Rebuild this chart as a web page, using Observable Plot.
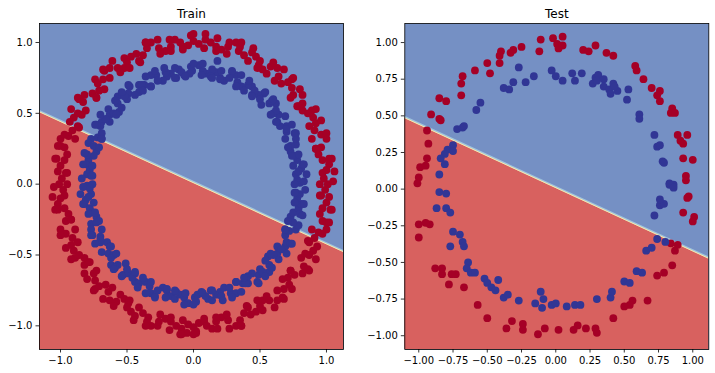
<!DOCTYPE html>
<html>
<head>
<meta charset="utf-8">
<script src="https://cdn.jsdelivr.net/npm/d3@7"></script>
<script src="https://cdn.jsdelivr.net/npm/@observablehq/plot@0.6"></script>
<style>
  html, body { margin: 0; padding: 0; background: white; }
  #wrap { display: flex; width: 715px; height: 373px; }
  #wrap svg { display: block; }
</style>
</head>
<body>
<div id="wrap"></div>
<script>
// ---- Train set: outer ring (class 0, red) ----
const trainRed = [
  [1.01,0.00],[0.98,0.04],[1.05,0.02],[0.97,0.08],[1.02,0.14],[1.00,0.10],
  [1.02,0.18],[0.94,0.21],[0.97,0.17],[0.96,0.26],[1.00,0.32],[0.92,0.25],
  [0.96,0.35],[0.91,0.38],[1.00,0.36],[0.87,0.41],[0.90,0.47],[0.92,0.43],
  [0.89,0.52],[0.82,0.52],[0.86,0.50],[0.82,0.57],[0.82,0.63],[0.79,0.55],
  [0.75,0.63],[0.74,0.68],[0.80,0.67],[0.74,0.74],[0.66,0.71],[0.71,0.72],
  [0.64,0.76],[0.63,0.82],[0.61,0.73],[0.58,0.83],[0.52,0.81],[0.60,0.86],
  [0.49,0.84],[0.47,0.90],[0.50,0.87],[0.44,0.93],[0.38,0.91],[0.41,0.87],
  [0.34,0.94],[0.32,1.00],[0.35,0.97],[0.27,1.00],[0.21,0.95],[0.26,0.97],
  [0.17,0.97],[0.13,1.00],[0.18,1.03],[0.09,1.02],[0.04,0.99],[0.08,0.96],
  [0.00,1.01],[-0.04,0.98],[-0.02,1.05],[-0.08,0.97],[-0.14,1.02],[-0.10,1.00],
  [-0.18,1.02],[-0.21,0.94],[-0.17,0.97],[-0.26,0.96],[-0.32,1.00],[-0.25,0.92],
  [-0.35,0.96],[-0.38,0.91],[-0.36,1.00],[-0.41,0.87],[-0.47,0.90],[-0.43,0.92],
  [-0.52,0.89],[-0.52,0.82],[-0.50,0.86],[-0.57,0.82],[-0.63,0.82],[-0.55,0.79],
  [-0.63,0.75],[-0.68,0.74],[-0.67,0.80],[-0.74,0.74],[-0.71,0.66],[-0.72,0.71],
  [-0.76,0.64],[-0.82,0.63],[-0.73,0.61],[-0.83,0.58],[-0.81,0.52],[-0.86,0.60],
  [-0.84,0.49],[-0.90,0.47],[-0.87,0.50],[-0.93,0.44],[-0.91,0.38],[-0.87,0.41],
  [-0.94,0.34],[-1.00,0.32],[-0.97,0.35],[-1.00,0.27],[-0.95,0.21],[-0.97,0.26],
  [-0.97,0.17],[-1.00,0.13],[-1.03,0.18],[-1.02,0.09],[-0.99,0.04],[-0.96,0.08],
  [-1.01,0.00],[-0.98,-0.04],[-1.05,-0.02],[-0.97,-0.08],[-1.02,-0.14],[-1.00,-0.10],
  [-1.02,-0.18],[-0.94,-0.21],[-0.97,-0.17],[-0.96,-0.26],[-1.00,-0.32],[-0.92,-0.25],
  [-0.96,-0.35],[-0.91,-0.38],[-1.00,-0.36],[-0.87,-0.41],[-0.90,-0.47],[-0.92,-0.43],
  [-0.89,-0.52],[-0.82,-0.52],[-0.86,-0.50],[-0.82,-0.57],[-0.82,-0.63],[-0.79,-0.55],
  [-0.75,-0.63],[-0.74,-0.68],[-0.80,-0.67],[-0.74,-0.74],[-0.66,-0.71],[-0.71,-0.72],
  [-0.64,-0.76],[-0.63,-0.82],[-0.61,-0.73],[-0.58,-0.83],[-0.52,-0.81],[-0.60,-0.86],
  [-0.49,-0.84],[-0.47,-0.90],[-0.50,-0.87],[-0.44,-0.93],[-0.38,-0.91],[-0.41,-0.87],
  [-0.34,-0.94],[-0.32,-1.00],[-0.35,-0.97],[-0.27,-1.00],[-0.21,-0.95],[-0.26,-0.97],
  [-0.17,-0.97],[-0.13,-1.00],[-0.18,-1.03],[-0.09,-1.02],[-0.04,-0.99],[-0.08,-0.96],
  [-0.10,-1.06],[-0.05,-1.05],[0.02,-1.04],
  [0.00,-1.01],[0.04,-0.98],[0.02,-1.05],[0.08,-0.97],[0.14,-1.02],[0.10,-1.00],
  [0.18,-1.02],[0.21,-0.94],[0.17,-0.97],[0.26,-0.96],[0.32,-1.00],[0.25,-0.92],
  [0.35,-0.96],[0.38,-0.91],[0.36,-1.00],[0.41,-0.87],[0.47,-0.90],[0.43,-0.92],
  [0.52,-0.89],[0.52,-0.82],[0.50,-0.86],[0.57,-0.82],[0.63,-0.82],[0.55,-0.79],
  [0.63,-0.75],[0.68,-0.74],[0.67,-0.80],[0.74,-0.74],[0.71,-0.66],[0.72,-0.71],
  [0.76,-0.64],[0.82,-0.63],[0.73,-0.61],[0.83,-0.58],[0.81,-0.52],[0.86,-0.60],
  [0.84,-0.49],[0.90,-0.47],[0.87,-0.50],[0.93,-0.44],[0.91,-0.38],[0.87,-0.41],
  [0.94,-0.34],[1.00,-0.32],[0.97,-0.35],[1.00,-0.27],[0.95,-0.21],[0.97,-0.26],
  [0.97,-0.17],[1.00,-0.13],[1.03,-0.18],[1.02,-0.09],[0.99,-0.04],[0.96,-0.08],
  [0.95,0.00],[1.06,0.09],[1.04,0.18],[0.92,0.25],[0.89,0.32],[0.96,0.45],
  [0.92,0.53],[0.78,0.55],[0.73,0.61],[0.75,0.75],[0.68,0.81],[0.55,0.78],
  [0.48,0.82],[0.45,0.96],[0.36,1.00],[0.25,0.92],[0.17,0.94],[0.09,1.06],
  [0.00,1.06],[-0.08,0.95],[-0.17,0.94],[-0.27,1.02],[-0.36,1.00],[-0.40,0.86],
  [-0.48,0.82],[-0.61,0.87],[-0.68,0.81],[-0.67,0.67],[-0.73,0.61],[-0.87,0.61],
  [-0.92,0.53],[-0.86,0.40],[-0.89,0.32],[-1.02,0.27],[-1.04,0.18],[-0.95,0.08],
  [-0.95,0.00],[-1.06,-0.09],[-1.04,-0.18],[-0.92,-0.25],[-0.89,-0.32],[-0.96,-0.45],
  [-0.92,-0.53],[-0.78,-0.55],[-0.73,-0.61],[-0.75,-0.75],[-0.68,-0.81],[-0.55,-0.78],
  [-0.48,-0.82],[-0.45,-0.96],[-0.36,-1.00],[-0.25,-0.92],[-0.17,-0.94],[-0.09,-1.06],
  [0.00,-1.06],[0.08,-0.95],[0.17,-0.94],[0.27,-1.02],[0.36,-1.00],[0.40,-0.86],
  [0.48,-0.82],[0.61,-0.87],[0.68,-0.81],[0.67,-0.67],[0.73,-0.61],[0.87,-0.61],
  [0.92,-0.53],[0.86,-0.40],[0.89,-0.32],[1.02,-0.27],[1.04,-0.18],[0.95,-0.08]
];

// ---- Train set: inner ring (class 1, blue) ----
const trainBlue = [
  [0.80,0.01],[0.78,0.03],[0.83,0.02],[0.77,0.07],[0.81,0.11],[0.79,0.09],
  [0.82,0.14],[0.78,0.17],[0.75,0.13],[0.76,0.20],[0.73,0.23],[0.79,0.21],
  [0.77,0.28],[0.77,0.32],[0.73,0.27],[0.69,0.32],[0.70,0.37],[0.76,0.36],
  [0.70,0.41],[0.65,0.41],[0.70,0.39],[0.69,0.48],[0.64,0.49],[0.63,0.44],
  [0.60,0.50],[0.62,0.57],[0.62,0.52],[0.57,0.57],[0.51,0.56],[0.59,0.59],
  [0.53,0.64],[0.49,0.63],[0.50,0.60],[0.44,0.63],[0.44,0.69],[0.46,0.66],
  [0.41,0.70],[0.36,0.69],[0.42,0.73],[0.33,0.72],[0.32,0.77],[0.32,0.69],
  [0.29,0.79],[0.23,0.73],[0.27,0.75],[0.20,0.75],[0.17,0.79],[0.21,0.80],
  [0.14,0.81],[0.10,0.78],[0.13,0.76],[0.07,0.80],[0.04,0.84],[0.06,0.77],
  [0.18,0.87],
  [-0.01,0.80],[-0.03,0.78],[-0.02,0.83],[-0.07,0.77],[-0.11,0.81],[-0.09,0.79],
  [-0.14,0.82],[-0.17,0.78],[-0.13,0.75],[-0.20,0.76],[-0.23,0.73],[-0.21,0.79],
  [-0.28,0.77],[-0.32,0.77],[-0.27,0.73],[-0.32,0.69],[-0.37,0.70],[-0.36,0.76],
  [-0.41,0.70],[-0.41,0.65],[-0.39,0.70],[-0.48,0.69],[-0.49,0.64],[-0.44,0.63],
  [-0.50,0.60],[-0.57,0.62],[-0.52,0.62],[-0.57,0.57],[-0.56,0.51],[-0.59,0.59],
  [-0.64,0.53],[-0.63,0.49],[-0.60,0.50],[-0.63,0.44],[-0.69,0.44],[-0.66,0.46],
  [-0.70,0.41],[-0.69,0.36],[-0.73,0.42],[-0.72,0.33],[-0.77,0.32],[-0.69,0.32],
  [-0.79,0.29],[-0.73,0.23],[-0.75,0.27],[-0.75,0.20],[-0.79,0.17],[-0.80,0.21],
  [-0.81,0.14],[-0.78,0.10],[-0.76,0.13],[-0.80,0.07],[-0.84,0.04],[-0.77,0.06],
  [-0.80,-0.01],[-0.78,-0.03],[-0.83,-0.02],[-0.77,-0.07],[-0.81,-0.11],[-0.79,-0.09],
  [-0.82,-0.14],[-0.78,-0.17],[-0.75,-0.13],[-0.76,-0.20],[-0.73,-0.23],[-0.79,-0.21],
  [-0.77,-0.28],[-0.77,-0.32],[-0.73,-0.27],[-0.69,-0.32],[-0.70,-0.37],[-0.76,-0.36],
  [-0.70,-0.41],[-0.65,-0.41],[-0.70,-0.39],[-0.69,-0.48],[-0.64,-0.49],[-0.63,-0.44],
  [-0.60,-0.50],[-0.62,-0.57],[-0.62,-0.52],[-0.57,-0.57],[-0.51,-0.56],[-0.59,-0.59],
  [-0.53,-0.64],[-0.49,-0.63],[-0.50,-0.60],[-0.44,-0.63],[-0.44,-0.69],[-0.46,-0.66],
  [-0.41,-0.70],[-0.36,-0.69],[-0.42,-0.73],[-0.33,-0.72],[-0.32,-0.77],[-0.32,-0.69],
  [-0.29,-0.79],[-0.23,-0.73],[-0.27,-0.75],[-0.20,-0.75],[-0.17,-0.79],[-0.21,-0.80],
  [-0.14,-0.81],[-0.10,-0.78],[-0.13,-0.76],[-0.07,-0.80],[-0.04,-0.84],[-0.06,-0.77],
  [0.01,-0.80],[0.03,-0.78],[0.02,-0.83],[0.07,-0.77],[0.11,-0.81],[0.09,-0.79],
  [0.14,-0.82],[0.17,-0.78],[0.13,-0.75],[0.20,-0.76],[0.23,-0.73],[0.21,-0.79],
  [0.28,-0.77],[0.32,-0.77],[0.27,-0.73],[0.32,-0.69],[0.37,-0.70],[0.36,-0.76],
  [0.41,-0.70],[0.41,-0.65],[0.39,-0.70],[0.48,-0.69],[0.49,-0.64],[0.44,-0.63],
  [0.50,-0.60],[0.57,-0.62],[0.52,-0.62],[0.57,-0.57],[0.56,-0.51],[0.59,-0.59],
  [0.64,-0.53],[0.63,-0.49],[0.60,-0.50],[0.63,-0.44],[0.69,-0.44],[0.66,-0.46],
  [0.70,-0.41],[0.69,-0.36],[0.73,-0.42],[0.72,-0.33],[0.77,-0.32],[0.69,-0.32],
  [0.79,-0.29],[0.73,-0.23],[0.75,-0.27],[0.75,-0.20],[0.79,-0.17],[0.80,-0.21],
  [0.81,-0.14],[0.78,-0.10],[0.76,-0.13],[0.80,-0.07],[0.84,-0.04],[0.77,-0.06],
  [0.76,0.00],[0.85,0.07],[0.83,0.14],[0.74,0.20],[0.71,0.26],[0.77,0.36],
  [0.74,0.42],[0.62,0.44],[0.58,0.49],[0.60,0.60],[0.54,0.65],[0.44,0.62],
  [0.38,0.66],[0.36,0.77],[0.29,0.80],[0.20,0.74],[0.14,0.75],[0.07,0.85],
  [0.00,0.85],[-0.06,0.76],[-0.14,0.75],[-0.22,0.82],[-0.29,0.80],[-0.32,0.69],
  [-0.38,0.66],[-0.49,0.70],[-0.54,0.65],[-0.54,0.54],[-0.58,0.49],[-0.70,0.49],
  [-0.74,0.42],[-0.69,0.32],[-0.71,0.26],[-0.82,0.22],[-0.83,0.14],[-0.76,0.06],
  [-0.76,0.00],[-0.85,-0.07],[-0.83,-0.14],[-0.74,-0.20],[-0.71,-0.26],[-0.77,-0.36],
  [-0.74,-0.42],[-0.62,-0.44],[-0.58,-0.49],[-0.60,-0.60],[-0.54,-0.65],[-0.44,-0.62],
  [-0.38,-0.66],[-0.36,-0.77],[-0.29,-0.80],[-0.20,-0.74],[-0.14,-0.75],[-0.07,-0.85],
  [0.00,-0.85],[0.06,-0.76],[0.14,-0.75],[0.22,-0.82],[0.29,-0.80],[0.32,-0.69],
  [0.38,-0.66],[0.49,-0.70],[0.54,-0.65],[0.54,-0.54],[0.58,-0.49],[0.70,-0.49],
  [0.74,-0.42],[0.69,-0.32],[0.71,-0.26],[0.82,-0.22],[0.83,-0.14],[0.76,-0.06]
];

// ---- Test set ----
const testRed = [
  [-0.11,1.02],[-0.02,1.03],[0.05,1.04],[0.01,0.99],[0.02,0.96],[0.05,0.98],
  [-0.12,0.94],[-0.25,0.97],[-0.31,0.95],[-0.33,0.93],[-0.40,0.94],[-0.41,0.91],
  [-0.41,0.86],[-0.50,0.86],[-0.48,0.79],[-0.59,0.81],[-0.68,0.77],[-0.69,0.72],
  [-0.69,0.64],[-0.85,0.62],[-0.80,0.60],[-0.91,0.51],[-0.85,0.48],[-0.84,0.47],
  [-0.94,0.40],[-0.93,0.31],[-0.94,0.21],[-0.99,0.15],[-0.95,0.16],[-1.00,0.08],
  [-1.01,0.04],
  [0.20,0.95],[0.24,0.94],[0.29,0.98],[0.37,0.93],[0.42,0.91],[0.58,0.84],
  [0.59,0.81],[0.64,0.75],[0.70,0.69],[0.76,0.67],[0.74,0.64],[0.76,0.60],
  [0.85,0.55],[0.84,0.52],[0.87,0.52],[0.89,0.37],[0.96,0.37],[0.91,0.33],
  [0.93,0.31],[0.93,0.21],[1.00,0.20],[0.95,0.09],[0.95,0.06],
  [0.97,-0.05],[0.96,-0.06],[0.93,-0.16],[1.01,-0.19],[1.00,-0.22],
  [0.84,-0.37],[0.89,-0.38],[0.87,-0.42],[0.85,-0.52],[0.79,-0.57],[0.74,-0.59],
  [0.67,-0.76],[0.56,-0.76],[0.54,-0.79],[0.50,-0.80],[0.42,-0.88],[0.29,-0.95],
  [0.30,-0.98],[0.22,-0.95],[0.16,-0.93],[0.13,-0.96],[0.02,-0.96],[-0.08,-0.95],
  [-0.13,-0.99],[-0.24,-0.92],[-0.24,-0.96],[-0.32,-0.90],[-0.36,-0.95],[-0.50,-0.88],
  [-0.57,-0.79],[-0.67,-0.67],[-0.78,-0.65],[-0.73,-0.58],[-0.76,-0.58],[-0.83,-0.58],
  [-0.83,-0.54],[-0.88,-0.54],[-0.92,-0.24],[-0.95,-0.23],[-1.00,-0.24],[-1.00,-0.33]
];
const testBlue = [
  [-0.27,0.83],[-0.22,0.73],[-0.16,0.77],[-0.03,0.81],[0.00,0.77],[0.05,0.74],
  [0.12,0.79],[0.14,0.74],[0.19,0.79],[0.27,0.72],[0.29,0.76],[0.31,0.78],
  [0.30,0.74],[0.35,0.75],[0.35,0.70],[0.39,0.68],[0.42,0.72],[0.40,0.65],
  [0.45,0.67],[0.43,0.70],[0.52,0.61],[0.53,0.68],[0.61,0.51],[0.61,0.48],
  [0.72,0.37],[0.74,0.29],[0.76,0.30],[0.78,0.19],[0.79,0.18],[0.83,0.04],
  [0.86,0.03],
  [-0.38,0.69],[-0.34,0.68],[-0.31,0.73],[-0.58,0.54],[-0.55,0.59],[-0.72,0.41],
  [-0.68,0.42],[-0.67,0.43],[-0.75,0.30],[-0.79,0.27],[-0.81,0.24],[-0.75,0.26],
  [-0.84,0.21],[-0.81,0.17],[-0.85,0.10],
  [-0.85,-0.02],[-0.80,-0.03],[-0.87,-0.13],[-0.80,-0.13],[-0.77,-0.16],[-0.75,-0.29],
  [-0.70,-0.31],[-0.68,-0.36],[-0.67,-0.39],[-0.77,-0.39],[-0.64,-0.50],[-0.65,-0.54],
  [-0.62,-0.57],[-0.59,-0.57],[-0.52,-0.61],[-0.50,-0.64],[-0.42,-0.62],[-0.47,-0.67],
  [-0.44,-0.69],[-0.38,-0.74],[-0.35,-0.72],[-0.27,-0.76],[-0.15,-0.78],[-0.11,-0.70],
  [-0.09,-0.75],[-0.10,-0.81],[-0.03,-0.79],[0.00,-0.78],[0.08,-0.80],[0.14,-0.79],
  [0.18,-0.79],[0.30,-0.75],[0.40,-0.74],[0.41,-0.70],[0.50,-0.63],[0.54,-0.64],
  [0.59,-0.56],[0.63,-0.57],[0.66,-0.42],[0.70,-0.40],[0.74,-0.34],[0.80,-0.36],
  [0.72,-0.18],[0.76,-0.11],[0.79,-0.10],[0.76,-0.07],[0.83,0.03],[0.86,0.01]
];

// ---- Decision boundary (model output red below / blue above) ----
const boundaryX = [-1.25, 1.25];
const boundaryY = [0.55, -0.53];

// ---- Axes ----
const trainTicks = [-1.0, -0.5, 0.0, 0.5, 1.0];
const testTicks = [-1.0, -0.75, -0.5, -0.25, 0.0, 0.25, 0.5, 0.75, 1.0];

const RED_BG = "#d8615f";
const BLUE_BG = "#7590c4";
const RED_PT = "#a50026";
const BLUE_PT = "#313695";

const boundary = boundaryX.map((x, i) => ({x, y: boundaryY[i]}));

function fmt(digits) {
  return d => {
    const v = Math.abs(d) < 1e-9 ? 0 : d;
    return v.toFixed(digits).replace("-", "\u2212");
  };
}

function panel({title, red, blue, xDomain, yDomain, ticks, digits, width, marginLeft, marginRight}) {
  return Plot.plot({
    width, height: 373,
    marginLeft, marginRight, marginTop: 23, marginBottom: 24,
    x: {domain: xDomain},
    y: {domain: yDomain},
    style: {fontFamily: "DejaVu Sans", fontSize: "10px", color: "black", background: "white"},
    marks: [
      Plot.frame({fill: BLUE_BG, stroke: null}),
      Plot.areaY(boundary, {x: "x", y1: -2, y2: "y", fill: RED_BG, clip: true}),
      Plot.line(boundary, {x: "x", y: "y", stroke: "#9fc3de", strokeWidth: 2, clip: true, dy: -0.8}),
      Plot.line(boundary, {x: "x", y: "y", stroke: "#fbe9a8", strokeWidth: 1, clip: true}),
      Plot.dot(red, {x: d => d[0], y: d => d[1], r: 3.9, fill: RED_PT, stroke: null}),
      Plot.dot(blue, {x: d => d[0], y: d => d[1], r: 3.9, fill: BLUE_PT, stroke: null}),
      Plot.frame({stroke: "black", strokeWidth: 0.8}),
      Plot.axisX({ticks, tickFormat: fmt(digits), tickSize: 3.5, tickPadding: 3.5, strokeWidth: 0.8, label: null}),
      Plot.axisY({ticks, tickFormat: fmt(digits), tickSize: 3.5, tickPadding: 3.5, strokeWidth: 0.8, label: null}),
      Plot.text([title], {frameAnchor: "top", dy: -6, lineAnchor: "bottom", fontSize: 12, fill: "black"})
    ]
  });
}

const wrap = document.getElementById("wrap");
wrap.append(panel({
  title: "Train", red: trainRed, blue: trainBlue,
  xDomain: [-1.158, 1.128], yDomain: [-1.167, 1.134],
  ticks: trainTicks, digits: 1, width: 357, marginLeft: 39, marginRight: 14
}));
wrap.append(panel({
  title: "Test", red: testRed, blue: testBlue,
  xDomain: [-1.102, 1.117], yDomain: [-1.094, 1.13],
  ticks: testTicks, digits: 2, width: 358, marginLeft: 47.3, marginRight: 6.7
}));
</script>
</body>
</html>
